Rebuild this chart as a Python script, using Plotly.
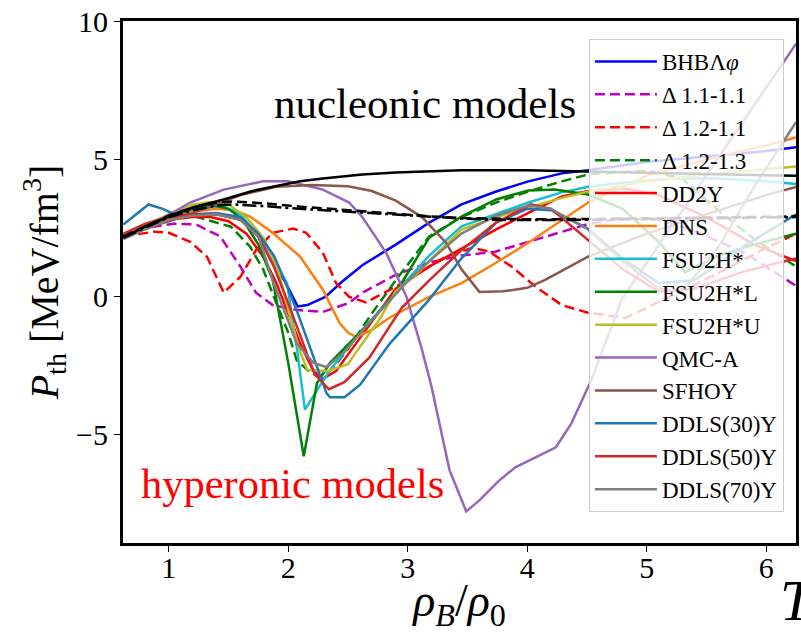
import plotly.graph_objects as go

# ---- thermal pressure curves (rho_B / rho_0  vs  P_th in MeV/fm^3) ----
bhb_x = [0.62, 0.8, 1.0, 1.2, 1.4, 1.6, 1.75, 1.9, 1.98, 2.08, 2.16, 2.31, 2.45, 2.62, 2.9, 3.18, 3.45, 3.74, 4.01, 4.29, 4.51, 5.0, 5.5, 6.0, 6.25]
bhb_y = [2.2, 2.55, 2.85, 3.0, 3.0, 2.85, 2.2, 1.1, 0.5, -0.35, -0.3, 0.0, 0.55, 1.15, 1.9, 2.7, 3.36, 3.83, 4.2, 4.49, 4.6, 4.9, 5.1, 5.3, 5.44]

d11_x = [0.62, 0.8, 1.04, 1.23, 1.43, 1.6, 1.73, 1.87, 2.06, 2.29, 2.51, 2.62, 2.9, 3.18, 3.45, 3.74, 4.01, 4.29, 4.51, 4.8, 5.1, 5.4, 5.82, 6.25]
d11_y = [2.2, 2.5, 2.66, 2.63, 2.2, 1.1, 0.15, -0.3, -0.47, -0.55, -0.22, 0.15, 0.8, 1.25, 1.5, 1.65, 2.0, 2.35, 2.65, 2.85, 2.8, 2.4, 1.6, 0.4]

d1211_x = [0.62, 0.88, 1.0, 1.18, 1.32, 1.46, 1.6, 1.73, 1.87, 2.04, 2.15, 2.29, 2.4, 2.51, 2.65, 2.9, 3.18, 3.32, 3.54, 3.68, 3.87, 4.07, 4.29, 4.51, 4.82, 5.09, 5.37, 5.65, 5.92, 6.25]
d1211_y = [2.2, 2.37, 2.33, 2.0, 1.46, 0.15, 0.73, 1.7, 2.33, 2.48, 2.33, 1.6, 0.5, 0.0, -0.2, 0.37, 1.1, 1.46, 1.78, 1.65, 1.1, 0.37, -0.3, -0.58, -0.77, -0.22, 0.37, 0.98, 1.6, 2.3]

d1213_x = [0.62, 0.8, 1.0, 1.2, 1.32, 1.52, 1.68, 1.79, 1.9, 2.0, 2.07, 2.17, 2.25, 2.35, 2.5, 2.7, 2.9, 3.18, 3.45, 3.74, 4.01, 4.29, 4.51, 5.0, 5.3, 5.62, 5.9, 6.25]
d1213_y = [2.2, 2.55, 2.85, 2.95, 2.8, 2.55, 1.83, 1.0, -0.22, -1.3, -2.3, -2.7, -2.9, -2.7, -1.9, -0.6, 0.6, 2.2, 2.9, 3.43, 3.83, 4.2, 4.45, 4.6, 4.3, 3.07, 2.1, 1.1]

dd2y_x = [0.62, 0.8, 1.0, 1.2, 1.35, 1.5, 1.65, 1.8, 1.9, 2.0, 2.1, 2.2, 2.28, 2.4, 2.6, 2.9, 3.18, 3.45, 3.74, 4.01, 4.29, 4.51, 4.8, 5.1, 5.5, 5.9, 6.25]
dd2y_y = [2.25, 2.6, 2.8, 2.9, 2.9, 2.75, 2.3, 1.4, 0.5, -0.6, -1.7, -2.6, -3.0, -2.7, -1.5, 0.3, 1.1, 1.75, 2.45, 3.05, 3.65, 3.85, 3.95, 3.7, 2.9, 1.9, 1.3]

dns_x = [0.62, 0.8, 1.0, 1.2, 1.4, 1.55, 1.68, 1.87, 2.1, 2.29, 2.43, 2.5, 2.57, 2.7, 2.85, 3.18, 3.45, 3.74, 4.01, 4.29, 4.51, 5.0, 5.5, 6.0, 6.25]
dns_y = [2.2, 2.6, 2.9, 3.1, 3.2, 3.15, 2.92, 2.33, 1.46, 0.26, -0.95, -1.3, -1.46, -1.2, -0.75, 0.0, 0.5, 1.24, 1.97, 2.8, 3.43, 4.4, 5.0, 5.5, 5.8]

fsu_x = [0.62, 0.8, 1.0, 1.2, 1.45, 1.6, 1.75, 1.88, 1.99, 2.07, 2.14, 2.24, 2.35, 2.62, 2.95, 3.18, 3.45, 3.74, 4.01, 4.29, 4.51, 4.8, 5.2, 5.6, 6.0, 6.25]
fsu_y = [2.2, 2.6, 2.95, 3.2, 3.3, 3.0, 2.2, 1.3, 0.5, -1.8, -4.1, -3.4, -2.66, -1.2, 0.37, 1.5, 2.56, 3.0, 3.43, 3.8, 4.0, 4.15, 4.3, 4.3, 4.2, 4.1]

fsul_x = [0.62, 0.8, 1.0, 1.2, 1.35, 1.5, 1.62, 1.75, 1.87, 2.0, 2.13, 2.24, 2.35, 2.51, 2.68, 2.85, 2.93, 3.18, 3.45, 3.74, 4.01, 4.23, 4.51, 4.8, 5.1, 5.32, 5.6, 5.9, 6.25]
fsul_y = [2.2, 2.55, 2.9, 3.2, 3.35, 3.2, 2.8, 1.9, 0.62, -2.4, -5.8, -3.14, -2.4, -1.68, -0.95, -0.1, 0.37, 2.15, 2.92, 3.54, 3.87, 3.9, 3.72, 3.2, 2.0, 0.9, 1.5, 1.9, 2.3]

fsuu_x = [0.62, 0.8, 1.0, 1.2, 1.35, 1.5, 1.65, 1.8, 1.92, 2.02, 2.1, 2.16, 2.33, 2.5, 2.57, 2.76, 2.9, 3.07, 3.18, 3.45, 3.74, 4.01, 4.29, 4.51, 5.0, 5.5, 6.0, 6.25]
fsuu_y = [2.2, 2.6, 3.0, 3.35, 3.45, 3.35, 2.9, 2.1, 0.9, -0.8, -2.0, -2.66, -2.7, -2.45, -2.0, -0.84, 0.2, 0.8, 1.3, 2.45, 2.9, 3.25, 3.6, 3.83, 4.2, 4.45, 4.65, 4.74]

qmc_x = [0.62, 0.9, 1.18, 1.46, 1.79, 2.0, 2.29, 2.51, 2.62, 2.82, 2.99, 3.12, 3.2, 3.35, 3.49, 3.6, 3.76, 3.9, 4.07, 4.24, 4.37, 4.54, 4.79, 5.2, 5.7, 6.25]
qmc_y = [2.2, 2.74, 3.43, 3.9, 4.2, 4.2, 3.9, 3.43, 2.9, 1.6, 0.0, -1.93, -3.28, -6.3, -7.8, -7.4, -6.7, -6.2, -5.84, -5.47, -4.6, -3.0, -0.1, 2.5, 5.7, 9.2]

sfho_x = [0.62, 0.8, 1.0, 1.3, 1.6, 1.9, 2.2, 2.5, 2.7, 2.9, 3.12, 3.32, 3.45, 3.6, 3.8, 4.0, 4.15, 4.51, 5.0, 5.5, 6.0, 6.25]
sfho_y = [2.2, 2.5, 2.75, 3.2, 3.7, 4.0, 4.07, 4.02, 3.85, 3.5, 2.9, 1.97, 1.0, 0.18, 0.2, 0.33, 0.62, 1.46, 2.3, 3.0, 3.7, 4.0]

ddls30_x = [0.62, 0.83, 0.95, 1.07, 1.2, 1.4, 1.6, 1.75, 1.88, 1.97, 2.08, 2.18, 2.32, 2.35, 2.47, 2.6, 2.85, 3.18, 3.45, 3.74, 4.0, 4.2, 4.5, 4.8, 5.1, 5.4, 5.8, 6.25]
ddls30_y = [2.63, 3.36, 3.2, 2.95, 3.0, 3.05, 2.9, 2.3, 1.5, 0.6, -0.6, -1.8, -3.5, -3.65, -3.65, -3.2, -1.7, -0.1, 1.4, 2.7, 3.2, 3.15, 2.5, 1.4, 0.5, 0.6, 1.8, 3.0]

ddls50_x = [0.62, 0.8, 1.0, 1.2, 1.4, 1.6, 1.75, 1.88, 1.98, 2.08, 2.22, 2.34, 2.47, 2.68, 2.95, 3.18, 3.45, 3.74, 4.03, 4.2, 4.51, 4.8, 5.1, 5.4, 5.8, 6.25]
ddls50_y = [2.3, 2.65, 2.9, 3.0, 3.0, 2.8, 2.2, 1.1, 0.0, -1.2, -2.8, -3.36, -3.1, -2.2, -0.4, 0.6, 1.7, 2.7, 3.36, 3.2, 2.08, 1.0, 0.2, 0.3, 0.9, 1.4]

ddls70_x = [0.62, 0.8, 1.0, 1.2, 1.4, 1.6, 1.75, 1.87, 2.07, 2.21, 2.32, 2.46, 2.7, 3.01, 3.18, 3.45, 3.74, 4.01, 4.2, 4.51, 4.8, 5.1, 5.3, 5.6, 5.9, 6.25]
ddls70_y = [2.1, 2.45, 2.8, 2.95, 3.0, 2.8, 2.2, 0.6, -1.68, -2.4, -2.55, -2.04, -0.84, 0.62, 1.3, 2.3, 2.95, 3.32, 3.2, 2.45, 1.3, 0.3, 0.2, 1.8, 4.0, 6.35]

# nucleonic reference models (unlabelled black curves)
nuc_x = [0.62, 0.8, 1.04, 1.2, 1.46, 1.7, 1.87, 2.1, 2.29, 2.62, 2.9, 3.45, 4.0, 4.5, 5.0, 5.5, 6.0, 6.25]
nuc_solid_y = [2.15, 2.55, 3.0, 3.25, 3.54, 3.85, 4.0, 4.2, 4.3, 4.45, 4.52, 4.6, 4.6, 4.56, 4.52, 4.48, 4.42, 4.4]
nuc2_x = [0.62, 0.8, 1.0, 1.2, 1.4, 1.54, 1.8, 2.1, 2.4, 2.62, 2.9, 3.18, 3.45, 3.74, 4.0, 4.5, 5.0, 5.5, 6.0, 6.25]
nuc_dash_y = [2.2, 2.55, 2.95, 3.25, 3.42, 3.47, 3.4, 3.28, 3.18, 3.1, 3.0, 2.93, 2.87, 2.83, 2.82, 2.83, 2.85, 2.88, 2.91, 2.93]
nuc_dashdot_y = [2.15, 2.5, 2.9, 3.15, 3.32, 3.36, 3.3, 3.2, 3.12, 3.06, 2.98, 2.9, 2.85, 2.8, 2.79, 2.8, 2.83, 2.86, 2.89, 2.9]

x_ticks = [1, 2, 3, 4, 5, 6]
y_ticks = [-5, 0, 5, 10]

DASH = "10px,5px"
series = [
    ("BHBΛ<i>φ</i>", bhb_x, bhb_y, "#0000ff", "solid"),
    ("Δ 1.1-1.1", d11_x, d11_y, "#bf00bf", DASH),
    ("Δ 1.2-1.1", d1211_x, d1211_y, "#ff0000", DASH),
    ("Δ 1.2-1.3", d1213_x, d1213_y, "#008000", DASH),
    ("DD2Y", dd2y_x, dd2y_y, "#ff0000", "solid"),
    ("DNS", dns_x, dns_y, "#ff7f0e", "solid"),
    ("FSU2H*", fsu_x, fsu_y, "#17becf", "solid"),
    ("FSU2H*L", fsul_x, fsul_y, "#008000", "solid"),
    ("FSU2H*U", fsuu_x, fsuu_y, "#bcbd22", "solid"),
    ("QMC-A", qmc_x, qmc_y, "#9467bd", "solid"),
    ("SFHOY", sfho_x, sfho_y, "#8c564b", "solid"),
    ("DDLS(30)Y", ddls30_x, ddls30_y, "#1f77b4", "solid"),
    ("DDLS(50)Y", ddls50_x, ddls50_y, "#d62728", "solid"),
    ("DDLS(70)Y", ddls70_x, ddls70_y, "#7f7f7f", "solid"),
]

fig = go.Figure()
for name, xs, ys, color, dash in series:
    fig.add_trace(go.Scatter(x=xs, y=ys, mode="lines", name=name,
                             line=dict(color=color, width=2.5, dash=dash)))

for xs, ys, dash in [(nuc_x, nuc_solid_y, "solid"),
                     (nuc2_x, nuc_dash_y, DASH),
                     (nuc2_x, nuc_dashdot_y, "14px,4px,3px,4px")]:
    fig.add_trace(go.Scatter(x=xs, y=ys, mode="lines", showlegend=False,
                             line=dict(color="black", width=2.5, dash=dash)))

SERIF = "Liberation Serif, Times New Roman, serif"
W, H = 801, 633
ML, MR, MT, MB = 123, 2, 21, 90
pw, ph = W - ML - MR, H - MT - MB


def px_x(p):
    return (p - ML) / pw


def px_y(p):
    return 1 - (p - MT) / ph


fig.update_layout(
    width=W, height=H,
    margin=dict(l=ML, r=MR, t=MT, b=MB, pad=0),
    paper_bgcolor="white", plot_bgcolor="white",
    font=dict(family=SERIF, color="black"),
    xaxis=dict(range=[0.617, 6.25], tickvals=x_ticks, ticks="outside", ticklen=6, tickwidth=1.2,
               tickcolor="black", showline=True, linecolor="black", linewidth=3, mirror=True,
               showgrid=False, zeroline=False, tickfont=dict(size=30, family=SERIF),
               ticklabelstandoff=-10,
               title=dict(text="<i>ρ</i><sub><i>B</i></sub>/<i>ρ</i><sub>0</sub>",
                          font=dict(size=46, family=SERIF), standoff=0)),
    yaxis=dict(range=[-8.95, 10.03], tickvals=y_ticks, ticks="outside", ticklen=6, tickwidth=1.2,
               tickcolor="black", showline=True, linecolor="black", linewidth=3, mirror=True,
               showgrid=False, zeroline=False, tickfont=dict(size=30, family=SERIF),
               title=dict(text="<i>P</i><sub>th</sub> [MeV/fm<sup>3</sup>]",
                          font=dict(size=40, family=SERIF), standoff=6)),
    legend=dict(x=px_x(591), y=px_y(39), xanchor="left", yanchor="top",
                bgcolor="rgba(255,255,255,0.8)", bordercolor="#cccccc", borderwidth=1,
                font=dict(size=23, family=SERIF), traceorder="normal", itemwidth=62),
    annotations=[
        dict(text="nucleonic models", x=px_x(426), y=px_y(103), xanchor="center", yanchor="middle",
             xref="paper", yref="paper", showarrow=False,
             font=dict(size=43, family=SERIF, color="black")),
        dict(text="hyperonic models", x=px_x(293), y=px_y(483), xanchor="center", yanchor="middle",
             xref="paper", yref="paper", showarrow=False,
             font=dict(size=42.5, family=SERIF, color="red")),
        dict(text="<i>T</i>", x=px_x(781), y=px_y(600), xanchor="left", yanchor="middle",
             xref="paper", yref="paper", showarrow=False,
             font=dict(size=58, family=SERIF, color="black")),
    ],
)

fig.write_html("out.html")
